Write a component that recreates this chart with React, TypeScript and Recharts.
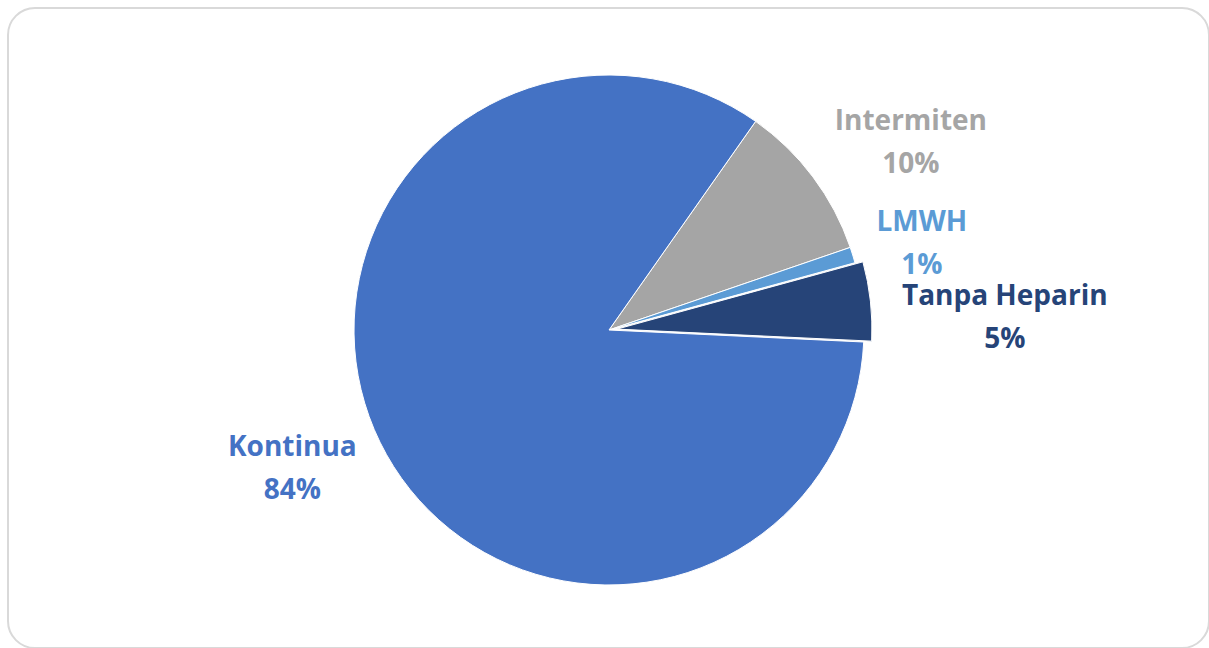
import React from 'react'
import { PieChart, Pie, Cell } from 'recharts'

// slices in drawing order (clockwise from the first slice angle)
const categories = ['Intermiten', 'LMWH', 'Tanpa Heparin', 'Kontinua']
const values = [10, 1, 5, 84]
const colors = ['#A5A5A5', '#5B9BD5', '#264478', '#4472C4']
const exploded = 'Tanpa Heparin'

// label placement relative to each slice: angle shift (deg) and distance beyond outer radius (px)
const labelShift = [-4.9, -1.4, -4.4, -2.7]
const labelExtra = [101, 70, 141, 90]

const data = categories.map((name, i) => ({ name, value: values[i] }))

const CX = 609
const CY = 330
const R = 255
const START = 54.9
const EXPLODE = 8
const RAD = Math.PI / 180

const explodedIndex = categories.indexOf(exploded)

const renderLabel = (props: any) => {
  const { cx, cy, midAngle, outerRadius, index } = props
  const a = (midAngle + labelShift[index]) * RAD
  const r = outerRadius + labelExtra[index]
  const x = cx + r * Math.cos(a)
  const y = cy - r * Math.sin(a)
  return (
    <text
      x={x}
      y={y}
      textAnchor="middle"
      fill={colors[index]}
      fontFamily="'Open Sans', sans-serif"
      fontWeight={700}
      fontSize={28}
    >
      <tspan x={x} y={y - 11.5}>{categories[index]}</tspan>
      <tspan x={x} y={y + 31.5}>{`${values[index]}%`}</tspan>
    </text>
  )
}

export default function App() {
  // the exploded slice is drawn by a second pie, shifted outward along its mid angle
  let acc = 0
  for (let i = 0; i < explodedIndex; i++) acc += values[i]
  const total = values.reduce((s, v) => s + v, 0)
  const mid = START - ((acc + values[explodedIndex] / 2) / total) * 360
  const ex = EXPLODE * Math.cos(mid * RAD)
  const ey = -EXPLODE * Math.sin(mid * RAD)

  return (
    <div style={{ position: 'absolute', left: 0, top: 0, width: 1209, height: 648, background: '#fff' }}>
      <div
        style={{
          position: 'absolute',
          left: 7,
          top: 7,
          width: 1199,
          height: 638,
          border: '2px solid #d9d9d9',
          borderRadius: 28,
        }}
      />
      <div style={{ position: 'absolute', left: 0, top: 0 }}>
        <PieChart width={1209} height={648} margin={{ top: 0, right: 0, bottom: 0, left: 0 }}>
          <Pie
            data={data}
            dataKey="value"
            nameKey="name"
            cx={CX}
            cy={CY}
            outerRadius={R}
            startAngle={START}
            endAngle={START - 360}
            stroke="#ffffff"
            strokeWidth={1}
            label={renderLabel}
            labelLine={false}
            isAnimationActive={false}
          >
            {data.map((d, i) => (
              <Cell
                key={d.name}
                fill={i === explodedIndex ? 'transparent' : colors[i]}
                stroke={i === explodedIndex ? 'none' : '#ffffff'}
              />
            ))}
          </Pie>
          <Pie
            data={data}
            dataKey="value"
            nameKey="name"
            cx={CX + ex}
            cy={CY + ey}
            outerRadius={R}
            startAngle={START}
            endAngle={START - 360}
            stroke="#ffffff"
            strokeWidth={1}
            isAnimationActive={false}
          >
            {data.map((d, i) => (
              <Cell
                key={d.name}
                fill={i === explodedIndex ? colors[i] : 'transparent'}
                stroke={i === explodedIndex ? '#ffffff' : 'none'}
              />
            ))}
          </Pie>
        </PieChart>
      </div>
    </div>
  )
}
